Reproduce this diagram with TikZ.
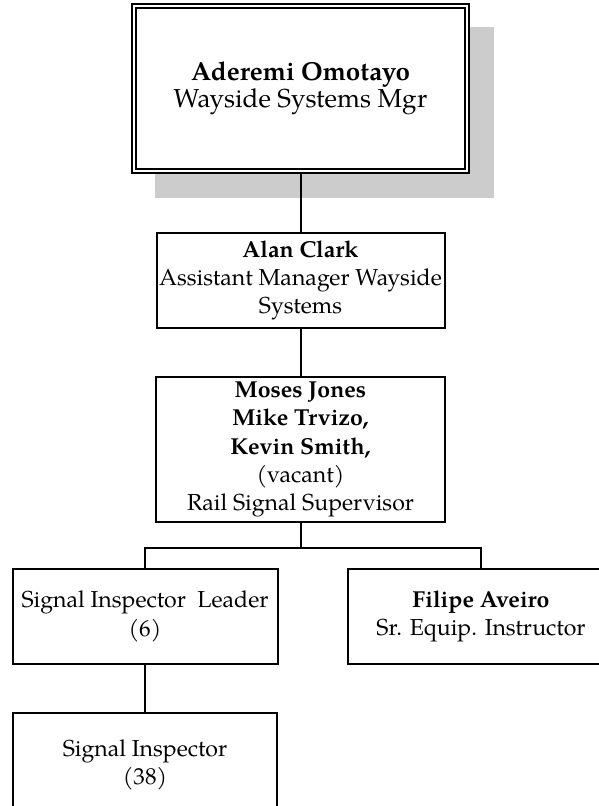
\documentclass[tikz,border=0pt]{standalone}
\usepackage{fontspec}
\setmainfont{TeX Gyre Pagella}
\usetikzlibrary{backgrounds}
\begin{document}
\begin{tikzpicture}[x=1pt,y=-1pt,
  box/.style={draw=black, line width=2pt, fill=white, align=center, inner sep=0pt,
    font=\fontsize{23.1}{28.3}\selectfont},
  conn/.style={draw=black, line width=2pt},
  shade/.style={fill=black!20}]
\useasboundingbox (0,0) rectangle (599,806);
\node[box, line width=2.2pt, minimum width=337, minimum height=169,
  font=\fontsize{26}{27}\selectfont] (top) at (300.5,88.5)
  {\textbf{Aderemi Omotayo}\\Wayside Systems Mgr};
\draw[line width=1.5pt] ([shift={(5,5)}]top.north west) rectangle ([shift={(-5,-5)}]top.south east);
\begin{scope}[on background layer]
  \fill[shade] ([shift={(24,24)}]top.north west) rectangle ([shift={(24,24)}]top.south east);
\end{scope}
\node[box, minimum width=288, minimum height=95] (alan) at (300.5,280.5)
  {\textbf{Alan Clark}\\Assistant Manager Wayside\\Systems};
\node[box, minimum width=289, minimum height=145] (moses) at (300.5,449.5)
  {\textbf{Moses Jones}\\\textbf{Mike Trvizo,}\\\textbf{Kevin Smith,}\\(vacant)\\Rail Signal Supervisor};
\node[box, minimum width=265, minimum height=95] (leader) at (145,616.5)
  {Signal Inspector\ \ Leader\\(6)};
\node[box, minimum width=266, minimum height=95] (filipe) at (481,616.5)
  {\textbf{Filipe Aveiro}\\Sr. Equip. Instructor};
\node[box, minimum width=264, minimum height=104] (insp) at (145,765)
  {Signal Inspector\\(38)};
\draw[conn] (top.south) -- (alan.north);
\draw[conn] (alan.south) -- (moses.north);
\draw[conn] (moses.south) -- ++(0,25) -| (leader.north);
\draw[conn] (moses.south) -- ++(0,25) -| (filipe.north);
\draw[conn] (leader.south) -- (insp.north);
\end{tikzpicture}
\end{document}
